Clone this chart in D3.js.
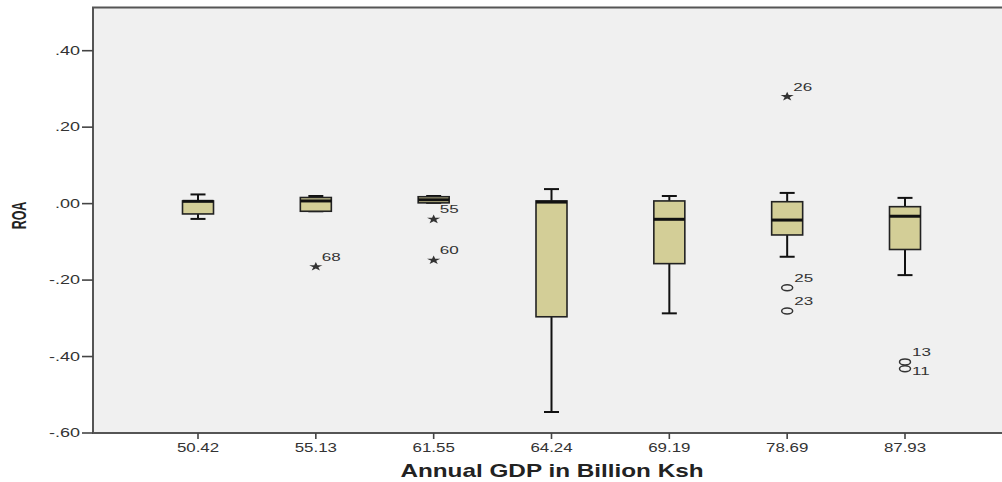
<!DOCTYPE html>
<html>
<head>
<meta charset="utf-8">
<script src="https://cdn.jsdelivr.net/npm/d3@7"></script>
<style>
  html, body { margin: 0; padding: 0; background: #fff; overflow: hidden; }
  svg { display: block; font-family: "Liberation Sans", Arial, sans-serif; }
</style>
</head>
<body>
<svg id="chart" width="1002" height="482"></svg>
<script>
// Annual GDP groups (x categories)
const categories = ["50.42", "55.13", "61.55", "64.24", "69.19", "78.69", "87.93"];

// Box-plot summaries of ROA per GDP group
const whiskerLow  = [-0.040, -0.020,  0.002, -0.545, -0.287, -0.139, -0.187];
const q1          = [-0.027, -0.020,  0.002, -0.296, -0.157, -0.082, -0.120];
const median      = [ 0.006,  0.007,  0.010,  0.004, -0.041, -0.043, -0.033];
const q3          = [ 0.007,  0.016,  0.018,  0.007,  0.007,  0.005, -0.008];
const whiskerHigh = [ 0.024,  0.020,  0.020,  0.038,  0.020,  0.028,  0.015];

// Outlying cases: group, case number, ROA value, kind ("extreme" = star, "outlier" = circle)
const outlierGroup = ["55.13", "61.55", "61.55", "78.69", "78.69", "78.69", "87.93", "87.93"];
const outlierCase  = ["68", "55", "60", "26", "25", "23", "13", "11"];
const outlierValue = [-0.165, -0.041, -0.148, 0.280, -0.220, -0.281, -0.414, -0.432];
const outlierKind  = ["extreme", "extreme", "extreme", "extreme", "outlier", "outlier", "outlier", "outlier"];

// Axis ticks and titles
const yTicks = [0.4, 0.2, 0.0, -0.2, -0.4, -0.6];
const xTitle = "Annual GDP in Billion Ksh";
const yTitle = "ROA";

const svg = d3.select("#chart");

// Plot frame (runs past the right edge of the page)
const frame = { left: 93, top: 7.5, right: 1040, bottom: 433 };

const x = d3.scalePoint()
  .domain(categories)
  .range([frame.left + 105, frame.left + 812]);

const y = d3.scaleLinear()
  .domain([-0.6, 0.513])
  .range([frame.bottom, frame.top]);

// SPSS-style tick text: two decimals, no leading zero, ASCII hyphen for negatives
const fmt = v => {
  const s = Math.abs(v).toFixed(2).replace(/^0\./, ".");
  return (v < -1e-9 ? "-" : "") + s;
};

// Wide-set text helper: glyphs are drawn stretched horizontally
function wideText(g, tx, ty, str, size, sx, anchor, weight) {
  return g.append("text")
    .attr("transform", `translate(${tx},${ty}) scale(${sx},1)`)
    .attr("text-anchor", anchor)
    .attr("font-size", size)
    .attr("font-weight", weight || "normal")
    .attr("fill", "#222")
    .text(str);
}

// Background and frame
svg.append("rect")
  .attr("x", frame.left).attr("y", frame.top)
  .attr("width", frame.right - frame.left).attr("height", frame.bottom - frame.top)
  .attr("fill", "#f0f0f0")
  .attr("stroke", "#555").attr("stroke-width", 2);

// Y ticks and labels
const yAxis = svg.append("g");
yTicks.forEach(t => {
  yAxis.append("line")
    .attr("x1", frame.left - 11).attr("x2", frame.left)
    .attr("y1", y(t)).attr("y2", y(t))
    .attr("stroke", "#444").attr("stroke-width", 1.6);
  wideText(yAxis, frame.left - 13, y(t) + 4.3, fmt(t), 12, 1.5, "end").attr("fill", "#333");
});

// X ticks and labels
const xAxis = svg.append("g");
categories.forEach(c => {
  xAxis.append("line")
    .attr("x1", x(c)).attr("x2", x(c))
    .attr("y1", frame.bottom).attr("y2", frame.bottom + 6)
    .attr("stroke", "#444").attr("stroke-width", 1.6);
  wideText(xAxis, x(c), 451.5, c, 13, 1.3, "middle").attr("fill", "#333");
});

// Axis titles
wideText(svg, 552, 477, xTitle, 18, 1.35, "middle", "bold");
svg.append("text")
  .attr("transform", "translate(26,215.5) scale(1.6,1) rotate(-90)")
  .attr("text-anchor", "middle")
  .attr("font-size", 12.5)
  .attr("font-weight", "bold")
  .attr("fill", "#222")
  .text(yTitle);

// Boxes
const boxW = 31, capW = 15;
const boxes = svg.append("g");
categories.forEach((c, i) => {
  const cx = x(c);
  const g = boxes.append("g");
  // whiskers
  g.append("line").attr("x1", cx).attr("x2", cx)
    .attr("y1", y(whiskerHigh[i])).attr("y2", y(q3[i]))
    .attr("stroke", "#111").attr("stroke-width", 2);
  g.append("line").attr("x1", cx).attr("x2", cx)
    .attr("y1", y(q1[i])).attr("y2", y(whiskerLow[i]))
    .attr("stroke", "#111").attr("stroke-width", 2);
  g.append("line").attr("x1", cx - capW / 2).attr("x2", cx + capW / 2)
    .attr("y1", y(whiskerHigh[i])).attr("y2", y(whiskerHigh[i]))
    .attr("stroke", "#111").attr("stroke-width", 2);
  g.append("line").attr("x1", cx - capW / 2).attr("x2", cx + capW / 2)
    .attr("y1", y(whiskerLow[i])).attr("y2", y(whiskerLow[i]))
    .attr("stroke", "#111").attr("stroke-width", 2);
  // box
  g.append("rect")
    .attr("x", cx - boxW / 2).attr("y", y(q3[i]))
    .attr("width", boxW).attr("height", Math.max(1, y(q1[i]) - y(q3[i])))
    .attr("fill", "#d3ce97")
    .attr("stroke", "#222").attr("stroke-width", 1.6);
  // median
  g.append("line").attr("x1", cx - boxW / 2).attr("x2", cx + boxW / 2)
    .attr("y1", y(median[i])).attr("y2", y(median[i]))
    .attr("stroke", "#111").attr("stroke-width", 3);
});

// Outliers and case labels
const starPath = d3.symbol().type(d3.symbolStar).size(26)();
const pts = svg.append("g");
outlierValue.forEach((v, i) => {
  const cx = x(outlierGroup[i]);
  const cy = y(v);
  if (outlierKind[i] === "extreme") {
    pts.append("path")
      .attr("d", starPath)
      .attr("transform", `translate(${cx},${cy}) scale(1.45,1)`)
      .attr("fill", "#333");
  } else {
    pts.append("ellipse")
      .attr("cx", cx).attr("cy", cy)
      .attr("rx", 5.5).attr("ry", 3)
      .attr("fill", "none")
      .attr("stroke", "#333").attr("stroke-width", 1.5);
  }
  // a label sits above-right; when another case of the same group lies just above, drop it below
  const crowded = outlierValue.some((w, j) => j !== i && outlierGroup[j] === outlierGroup[i]
    && w > v && (y(v) - y(w)) < 12);
  const dx = outlierKind[i] === "extreme" ? 6 : 7;
  const dy = crowded ? 6.5 : -6;
  wideText(pts, cx + dx, cy + dy, outlierCase[i], 11, 1.55, "start").attr("fill", "#333");
});
</script>
</body>
</html>
